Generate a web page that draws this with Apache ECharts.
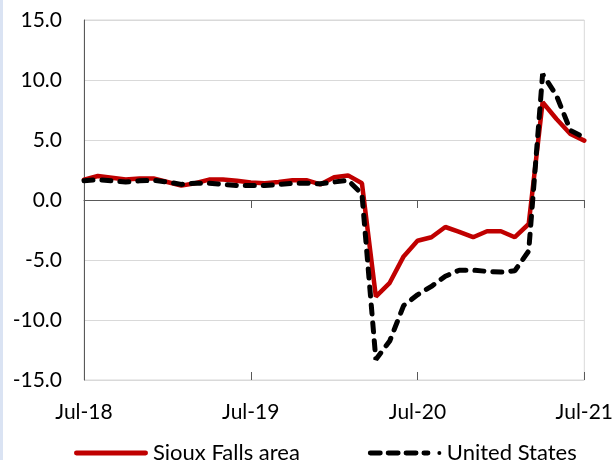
<!DOCTYPE html>
<html>
<head>
<meta charset="utf-8">
<script src="https://cdn.jsdelivr.net/npm/echarts@6/dist/echarts.min.js"></script>
<style>
  html, body { margin: 0; padding: 0; background: #fff; }
  #chart { width: 616px; height: 460px; }
</style>
</head>
<body>
<div id="chart"></div>
<script>
// monthly, Jul-18 .. Jul-21
const months = []
const monNames = ['Jan','Feb','Mar','Apr','May','Jun','Jul','Aug','Sep','Oct','Nov','Dec']
for (let i = 0; i < 37; i++) {
  const m = (6 + i) % 12
  const y = 18 + Math.floor((6 + i) / 12)
  months.push(monNames[m] + '-' + y)
}

const siouxFalls = [
  1.7, 2.0, 1.85, 1.7, 1.8, 1.8, 1.5, 1.2, 1.4, 1.7, 1.7, 1.6,
  1.45, 1.4, 1.5, 1.65, 1.65, 1.3, 1.9, 2.05, 1.4, -8.05, -6.9, -4.7,
  -3.4, -3.1, -2.25, -2.65, -3.1, -2.6, -2.6, -3.1, -2.0, 8.15, 6.75, 5.5,
  4.95
]
const unitedStates = [
  1.6, 1.7, 1.6, 1.5, 1.6, 1.65, 1.5, 1.3, 1.4, 1.4, 1.3, 1.2,
  1.2, 1.2, 1.3, 1.4, 1.4, 1.35, 1.5, 1.65, 0.5, -13.3, -11.75, -8.8,
  -7.9, -7.2, -6.35, -5.85, -5.85, -5.95, -6.0, -5.9, -4.25, 10.5, 8.7, 5.8,
  5.2
]

const chart = echarts.init(document.getElementById('chart'))
const font = 'Lato'

// legend icons drawn like the excel ones (solid bar / dashes + dot)
const solidIcon = 'path://M2,0 L72,0 A2.5,2.5 0 0 1 72,5 L2,5 A2.5,2.5 0 0 1 2,0 Z'
const dashIcon = 'path://M2,0 L12,0 A2.5,2.5 0 0 1 12,5 L2,5 A2.5,2.5 0 0 1 2,0 Z ' +
  'M20,0 L30,0 A2.5,2.5 0 0 1 30,5 L20,5 A2.5,2.5 0 0 1 20,0 Z ' +
  'M38,0 L48,0 A2.5,2.5 0 0 1 48,5 L38,5 A2.5,2.5 0 0 1 38,0 Z ' +
  'M56,0 L60,0 A2.5,2.5 0 0 1 60,5 L56,5 A2.5,2.5 0 0 1 56,0 Z ' +
  'M71.5,0.5 A2,2 0 1 1 71.5,4.5 A2,2 0 1 1 71.5,0.5 Z M74,0 L74,0.01 Z'

const option = {
  animation: false,
  textStyle: { fontFamily: font },
  graphic: [
    { type: 'rect', left: 0, top: 0, shape: { width: 3, height: 460 }, style: { fill: '#dae3f3' } }
  ],
  grid: {
    left: 84, right: 31, top: 20, bottom: 80,
    show: true, borderColor: '#d9d9d9', borderWidth: 1
  },
  legend: {
    left: 69, top: 437,
    itemWidth: 74, itemHeight: 5, itemGap: 68,
    textStyle: { fontFamily: font, fontSize: 22, color: '#000' },
    data: [
      { name: 'Sioux Falls area', icon: solidIcon, itemStyle: { color: '#c00000' } },
      { name: 'United States', icon: dashIcon, itemStyle: { color: '#000' } }
    ]
  },
  xAxis: [
    {
      type: 'category', data: months, boundaryGap: false,
      axisLine: { onZero: true, lineStyle: { color: '#595959', width: 1 } },
      axisTick: { show: true, interval: 11, length: 8, lineStyle: { color: '#595959' } },
      axisLabel: { show: false },
      splitLine: { show: false }
    },
    {
      type: 'category', data: months, boundaryGap: false, position: 'bottom',
      axisLine: { show: false, onZero: true },
      axisTick: { show: true, inside: true, interval: 11, length: 8, lineStyle: { color: '#595959' } },
      axisLabel: { show: false },
      splitLine: { show: false }
    },
    {
      type: 'category', data: months, boundaryGap: false, position: 'bottom',
      axisLine: { show: false, onZero: false },
      axisTick: { show: false },
      axisLabel: {
        interval: 11, margin: 22, fontFamily: font, fontSize: 21, color: '#000',
        showMaxLabel: true
      },
      splitLine: { show: false }
    }
  ],
  yAxis: {
    type: 'value', min: -15, max: 15, interval: 5,
    axisLine: { show: true, lineStyle: { color: '#595959' } },
    axisTick: { show: false },
    axisLabel: {
      margin: 22, fontFamily: font, fontSize: 21, color: '#000',
      formatter: v => v.toFixed(1)
    },
    splitLine: { lineStyle: { color: '#d9d9d9', width: 1 } }
  },
  series: [
    {
      name: 'Sioux Falls area', type: 'line', data: siouxFalls,
      xAxisIndex: 0, showSymbol: false, symbol: 'none',
      itemStyle: { color: '#c00000' },
      lineStyle: { color: '#c00000', width: 4.5, cap: 'round' },
      z: 3
    },
    {
      name: 'United States', type: 'line', data: unitedStates,
      xAxisIndex: 0, showSymbol: false, symbol: 'none',
      itemStyle: { color: '#000' },
      lineStyle: { color: '#000', width: 5, type: [9, 9], cap: 'round' },
      z: 4
    }
  ]
}

chart.setOption(option)
</script>
</body>
</html>
